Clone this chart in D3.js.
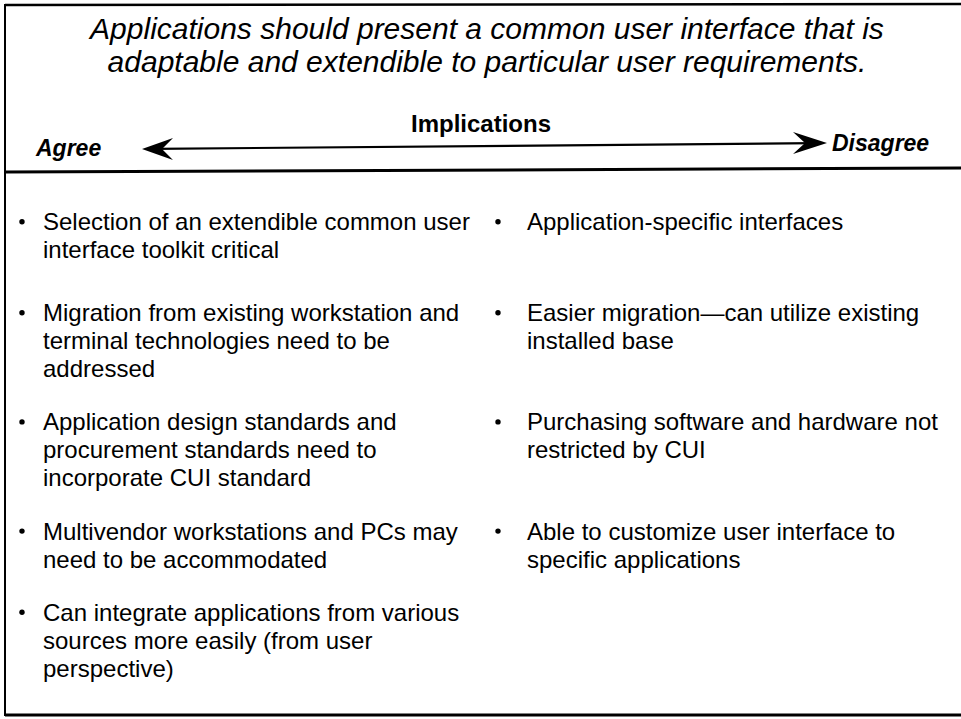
<!DOCTYPE html>
<html><head><meta charset="utf-8">
<script src="https://cdn.jsdelivr.net/npm/d3@7"></script>
<style>html,body{margin:0;padding:0;background:#fff;} svg{display:block;}</style>
</head><body><svg id="c" width="961" height="719"></svg>
<script>
const titleLines = ["Applications should present a common user interface that is",
                    "adaptable and extendible to particular user requirements."];
const headerLabel = "Implications";
const endLabels = ["Agree", "Disagree"];
const agreeItems = [
  ["Selection of an extendible common user", "interface toolkit critical"],
  ["Migration from existing workstation and", "terminal technologies need to be", "addressed"],
  ["Application design standards and", "procurement standards need to", "incorporate CUI standard"],
  ["Multivendor workstations and PCs may", "need to be accommodated"],
  ["Can integrate applications from various", "sources more easily (from user", "perspective)"]
];
const disagreeItems = [
  ["Application-specific interfaces"],
  ["Easier migration\u2014can utilize existing", "installed base"],
  ["Purchasing software and hardware not", "restricted by CUI"],
  ["Able to customize user interface to", "specific applications"]
];

const W = 961, H = 719;
const FONT = "'Liberation Sans', Arial, Helvetica, sans-serif";
const svg = d3.select("#c");

// frame
const g = svg.append("g").attr("stroke", "#000").attr("fill", "none");
g.append("line").attr("x1", 5).attr("x2", W + 5).attr("y1", 5).attr("y2", 4).attr("stroke-width", 2.5);
g.append("line").attr("x1", 5).attr("x2", W + 5).attr("y1", 172).attr("y2", 168).attr("stroke-width", 3);
g.append("line").attr("x1", 5).attr("x2", W + 5).attr("y1", 715).attr("y2", 715).attr("stroke-width", 3);
g.append("line").attr("x1", 5).attr("x2", 5).attr("y1", 4).attr("y2", 716).attr("stroke-width", 2);

// title
svg.append("g").selectAll("text").data(titleLines).join("text")
  .attr("x", 487).attr("y", (d, i) => 39 + i * 33)
  .attr("text-anchor", "middle")
  .style("font-family", FONT).style("font-style", "italic").style("font-size", "30px")
  .attr("fill", "#000").text(d => d);

// Implications
svg.append("text").attr("x", 481).attr("y", 132).attr("text-anchor", "middle")
  .style("font-family", FONT).style("font-weight", "bold").style("font-size", "24px")
  .text(headerLabel);

// arrow (slightly tilted like the scan)
const ax = d3.scaleLinear().domain([0, 1]).range([142, 827]);
const ayS = d3.scaleLinear().domain([0, 1]).range([149, 143]);
svg.append("line").attr("x1", ax(0) + 12).attr("x2", ax(1) - 12)
  .attr("y1", ayS(0.018)).attr("y2", ayS(0.982))
  .attr("stroke", "#000").attr("stroke-width", 2.2);
const headL = [[0, 0], [31, -11], [20, 0], [31, 11]];
const headR = [[0, 0], [-34, -11], [-22, 0], [-34, 11]];
const curve = pts => d3.line()(pts) + "Z";
svg.append("path").attr("d", curve(headL.map(p => [ax(0) + p[0], ayS(0) + p[1]]))).attr("fill", "#000");
svg.append("path").attr("d", curve(headR.map(p => [ax(1) + p[0], ayS(1) + p[1]]))).attr("fill", "#000");

svg.append("text").attr("x", 36).attr("y", 156)
  .style("font-family", FONT).style("font-weight", "bold").style("font-style", "italic").style("font-size", "23px")
  .text(endLabels[0]);
svg.append("text").attr("x", 832).attr("y", 151)
  .style("font-family", FONT).style("font-weight", "bold").style("font-style", "italic").style("font-size", "23px")
  .text(endLabels[1]);

// body rows
const nRows = Math.max(agreeItems.length, disagreeItems.length);
const rowLines = d3.range(nRows).map(i => Math.max((agreeItems[i] || []).length, (disagreeItems[i] || []).length));
const gapUnits = [1.25, 0.9, 0.9, 0.9];
const rowStart = [];
let acc = -0.35;
rowLines.forEach((n, i) => { rowStart.push(acc); acc += n + (gapUnits[i] || 0); });
const y = d3.scaleLinear().domain([0, 1]).range([240, 268]);

function column(items, xBullet, xText) {
  const col = svg.append("g").style("font-family", FONT).style("font-size", "24px").attr("fill", "#000");
  items.forEach((lines, i) => {
    col.append("circle").attr("cx", xBullet).attr("cy", y(rowStart[i]) - 8.5).attr("r", 2.7).attr("fill", "#000");
    col.selectAll(null).data(lines).join("text")
      .attr("x", xText).attr("y", (d, j) => y(rowStart[i] + j)).text(d => d);
  });
}
column(agreeItems, 22, 43);
column(disagreeItems, 498, 527);
</script></body></html>
